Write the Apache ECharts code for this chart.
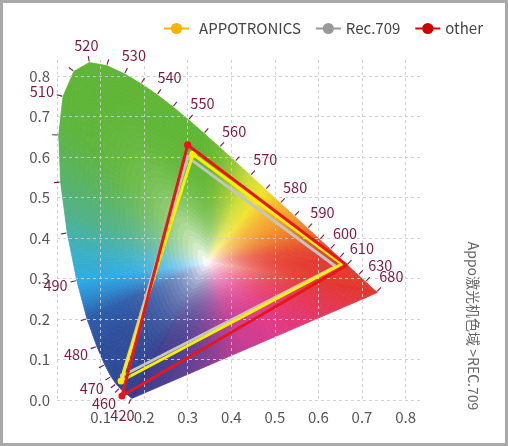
<!DOCTYPE html>
<html>
<head>
<meta charset="utf-8">
<script src="https://cdn.jsdelivr.net/npm/echarts@6/dist/echarts.min.js"></script>
<style>
  html, body { margin: 0; padding: 0; background: #fff; }
  #chart { width: 508px; height: 446px; }
</style>
</head>
<body>
<div id="chart"></div>
<script>
// CIE 1931 spectral locus, 5 nm steps
var locusWl = [380, 385, 390, 395, 400, 405, 410, 415, 420, 425, 430, 435, 440, 445, 450, 455,
  460, 465, 470, 475, 480, 485, 490, 495, 500, 505, 510, 515, 520, 525, 530, 535, 540, 545,
  550, 555, 560, 565, 570, 575, 580, 585, 590, 595, 600, 605, 610, 615, 620, 625, 630, 635,
  640, 645, 650, 655, 660, 665, 670, 675, 680, 685, 690, 695, 700];
var locusX = [0.1741, 0.1740, 0.1738, 0.1736, 0.1733, 0.1730, 0.1726, 0.1721, 0.1714, 0.1703,
  0.1689, 0.1669, 0.1644, 0.1611, 0.1566, 0.1510, 0.1440, 0.1355, 0.1241, 0.1096, 0.0913,
  0.0687, 0.0454, 0.0235, 0.0082, 0.0039, 0.0139, 0.0389, 0.0743, 0.1142, 0.1547, 0.1929,
  0.2296, 0.2658, 0.3016, 0.3373, 0.3731, 0.4087, 0.4441, 0.4788, 0.5125, 0.5448, 0.5752,
  0.6029, 0.6270, 0.6482, 0.6658, 0.6801, 0.6915, 0.7006, 0.7079, 0.7140, 0.7190, 0.7230,
  0.7260, 0.7283, 0.7300, 0.7311, 0.7320, 0.7327, 0.7334, 0.7340, 0.7344, 0.7346, 0.7347];
var locusY = [0.0050, 0.0050, 0.0049, 0.0049, 0.0048, 0.0048, 0.0048, 0.0048, 0.0051, 0.0058,
  0.0069, 0.0086, 0.0109, 0.0138, 0.0177, 0.0227, 0.0297, 0.0399, 0.0578, 0.0868, 0.1327,
  0.2007, 0.2950, 0.4127, 0.5384, 0.6548, 0.7502, 0.8120, 0.8338, 0.8262, 0.8059, 0.7816,
  0.7543, 0.7243, 0.6923, 0.6589, 0.6245, 0.5896, 0.5547, 0.5202, 0.4866, 0.4544, 0.4242,
  0.3965, 0.3725, 0.3514, 0.3340, 0.3197, 0.3083, 0.2993, 0.2920, 0.2859, 0.2809, 0.2770,
  0.2740, 0.2717, 0.2700, 0.2689, 0.2680, 0.2673, 0.2666, 0.2660, 0.2656, 0.2654, 0.2653];

var tickWl = [420, 460, 465, 470, 475, 480, 485, 490, 495, 500, 505, 510, 515, 520, 525, 530,
  535, 540, 545, 550, 555, 560, 565, 570, 575, 580, 585, 590, 595, 600, 605, 610, 620, 630, 680];
var labelWl = [420, 460, 470, 480, 490, 510, 520, 530, 540, 550, 560, 570, 580, 590, 600,
  610, 630, 680];

var appoX = [0.312, 0.654, 0.147, 0.312];
var appoY = [0.607, 0.336, 0.047, 0.607];
var rec709X = [0.300, 0.640, 0.150, 0.300];
var rec709Y = [0.600, 0.330, 0.060, 0.600];
var otherX = [0.300, 0.665, 0.149, 0.300];
var otherY = [0.630, 0.333, 0.010, 0.630];

var seriesNames = ["APPOTRONICS", "Rec.709", "other"];
var sideNote = "Appo激光机色域 >REC.709";

// colouring of the diagram (style only)
var whitePoint = [0.345, 0.340];
var edgeStops = [
  [380, "#3d3a8c"], [450, "#2f3f8e"], [460, "#2c4592"], [475, "#2c4a98"], [480, "#2c4e9c"],
  [485, "#2d5ca9"], [488, "#2b8fd3"], [490, "#2eaae3"], [493, "#3bb0c4"], [497, "#4fb18a"],
  [502, "#58b35c"], [507, "#5cb43c"], [512, "#5db535"], [555, "#5fb633"], [560, "#72bb33"],
  [565, "#98c738"], [570, "#cddc34"], [575, "#f1e22e"], [580, "#f4b72c"], [585, "#f19b2c"],
  [590, "#ed7c2c"], [595, "#e85d2d"], [600, "#e5452e"], [610, "#e4392e"], [700, "#e3372e"]
];
var purpleStops = [
  [0, "#e3372e"], [0.2, "#e4365a"], [0.4, "#e0388a"], [0.55, "#c63c90"], [0.7, "#7c3f94"],
  [0.85, "#4a3f91"], [1, "#3d3a8c"]
];

function hexRgb(h) {
  return [parseInt(h.substr(1, 2), 16), parseInt(h.substr(3, 2), 16), parseInt(h.substr(5, 2), 16)];
}
function mix(a, b, f) {
  return [a[0] + (b[0] - a[0]) * f, a[1] + (b[1] - a[1]) * f, a[2] + (b[2] - a[2]) * f];
}
function stopColor(stops, v) {
  for (var i = 0; i < stops.length - 1; i++) {
    if (v <= stops[i + 1][0]) {
      var f = (v - stops[i][0]) / (stops[i + 1][0] - stops[i][0]);
      return mix(hexRgb(stops[i][1]), hexRgb(stops[i + 1][1]), Math.max(0, f));
    }
  }
  return hexRgb(stops[stops.length - 1][1]);
}

// boundary: locus (with sub-steps for colour), then line of purples back to the start
var boundary = [];
for (var i = 0; i < locusWl.length; i++) {
  boundary.push({ x: locusX[i], y: locusY[i], wl: locusWl[i], c: stopColor(edgeStops, locusWl[i]) });
}
var last = locusWl.length - 1;
var purpleSteps = 24;
for (var j = 1; j < purpleSteps; j++) {
  var f = j / purpleSteps;
  boundary.push({
    x: locusX[last] + (locusX[0] - locusX[last]) * f,
    y: locusY[last] + (locusY[0] - locusY[last]) * f,
    c: stopColor(purpleStops, f)
  });
}

var fanData = [];
for (var i = 0; i < boundary.length; i++) {
  var a = boundary[i];
  var b = boundary[(i + 1) % boundary.length];
  var len = Math.hypot(b.x - a.x, b.y - a.y);
  var n = Math.max(1, Math.ceil(len / 0.006));
  var onLocus = a.wl !== undefined && b.wl !== undefined;
  for (var s = 0; s < n; s++) {
    var f0 = s / n, f1 = (s + 1) / n;
    var c = onLocus
      ? stopColor(edgeStops, a.wl + (b.wl - a.wl) * (f0 + f1) / 2)
      : mix(a.c, b.c, (f0 + f1) / 2);
    fanData.push([
      a.x + (b.x - a.x) * f0, a.y + (b.y - a.y) * f0,
      a.x + (b.x - a.x) * f1, a.y + (b.y - a.y) * f1,
      c[0], c[1], c[2]
    ]);
  }
}

var RINGS = 30;
function renderFan(params, api) {
  var x0 = api.value(0), y0 = api.value(1), x1 = api.value(2), y1 = api.value(3);
  var edge = [api.value(4), api.value(5), api.value(6)];
  var cx = whitePoint[0], cy = whitePoint[1];
  var children = [];
  for (var k = 0; k < RINGS; k++) {
    var t0 = k / RINGS, t1 = (k + 1) / RINGS;
    var w = Math.pow(1 - (t0 + t1) / 2, 3.5);
    var col = mix(edge, [255, 255, 255], w);
    var fill = "rgb(" + Math.round(col[0]) + "," + Math.round(col[1]) + "," + Math.round(col[2]) + ")";
    var pts = [
      api.coord([cx + (x0 - cx) * t0, cy + (y0 - cy) * t0]),
      api.coord([cx + (x0 - cx) * t1, cy + (y0 - cy) * t1]),
      api.coord([cx + (x1 - cx) * t1, cy + (y1 - cy) * t1]),
      api.coord([cx + (x1 - cx) * t0, cy + (y1 - cy) * t0])
    ];
    children.push({
      type: "polygon",
      shape: { points: pts },
      style: { fill: fill, stroke: fill, lineWidth: 0.7 },
      silent: true
    });
  }
  return { type: "group", children: children };
}

var tickData = tickWl.map(function (wl) {
  var i = locusWl.indexOf(wl);
  return [locusX[i], locusY[i], locusX[i - 1], locusY[i - 1], locusX[i + 1], locusY[i + 1],
    labelWl.indexOf(wl) >= 0 ? 1 : 0, wl];
});

function renderTick(params, api) {
  var p = api.coord([api.value(0), api.value(1)]);
  var a = api.coord([api.value(2), api.value(3)]);
  var b = api.coord([api.value(4), api.value(5)]);
  var c = api.coord(whitePoint);
  var tx = b[0] - a[0], ty = b[1] - a[1];
  var L = Math.hypot(tx, ty);
  var nx = ty / L, ny = -tx / L;
  if (nx * (p[0] - c[0]) + ny * (p[1] - c[1]) < 0) { nx = -nx; ny = -ny; }
  var children = [{
    type: "line",
    shape: { x1: p[0] + nx, y1: p[1] + ny, x2: p[0] + nx * 6.5, y2: p[1] + ny * 6.5 },
    style: { stroke: "#7a1a3c", lineWidth: 1.1 },
    silent: true
  }];
  if (api.value(6)) {
    var d = 8.5 + Math.abs(nx) * 12 + Math.abs(ny) * 7;
    children.push({
      type: "text",
      x: p[0] + nx * d,
      y: p[1] + ny * d,
      style: {
        text: String(api.value(7)),
        fill: "#7a1a3c",
        font: '14.5px "Noto Sans CJK SC"',
        align: "center",
        verticalAlign: "middle"
      },
      silent: true
    });
  }
  return { type: "group", children: children };
}

function pairs(xs, ys) {
  return xs.map(function (x, i) { return [x, ys[i]]; });
}
// no marker on the red corner (hidden in the reference)
function cornerSize(size) {
  return function (v, p) { return p.dataIndex === 1 ? 0 : size; };
}

var axisCommon = {
  type: "value",
  min: 0,
  max: 0.84,
  interval: 0.1,
  z: 5,
  axisLine: { show: false },
  axisTick: { show: false },
  splitLine: {
    show: true,
    showMaxLine: false,
    lineStyle: { type: [3, 3], color: "rgba(205,205,205,0.9)", width: 1 }
  }
};

var chart = echarts.init(document.getElementById("chart"));
chart.setOption({
  animation: false,
  backgroundColor: "#fff",
  textStyle: { fontFamily: '"Noto Sans CJK SC"' },
  grid: { left: 57, right: 85, top: 60, bottom: 46 },
  legend: {
    right: 20,
    top: 16,
    itemWidth: 25,
    itemHeight: 14,
    itemGap: 14,
    textStyle: { color: "#444", fontSize: 15, fontFamily: '"Noto Sans CJK SC"' },
    data: [
      {
        name: seriesNames[0], itemStyle: { color: "#f5b400" }, lineStyle: { color: "#f5b400" },
        textStyle: { padding: [0, 0, 0, 5] }
      },
      {
        name: seriesNames[1], itemStyle: { color: "#999" }, lineStyle: { color: "#999" },
        textStyle: { padding: [0, 7, 0, 0] }
      },
      { name: seriesNames[2], itemStyle: { color: "#d10000" }, lineStyle: { color: "#d10000" } }
    ]
  },
  xAxis: Object.assign({}, axisCommon, {
    axisLabel: {
      showMinLabel: false,
      showMaxLabel: false,
      color: "#555",
      fontSize: 15,
      margin: 10,
      formatter: function (v) { return v.toFixed(1); }
    }
  }),
  yAxis: Object.assign({}, axisCommon, {
    axisLabel: {
      showMaxLabel: false,
      color: "#555",
      fontSize: 15,
      margin: 7,
      formatter: function (v) { return v.toFixed(1); }
    }
  }),
  graphic: [
    {
      type: "rect",
      shape: { x: 1.5, y: 1.5, width: 505, height: 443 },
      style: { fill: "none", stroke: "#a9a9a9", lineWidth: 3 },
      silent: true,
      z: 100
    },
    {
      type: "text",
      x: 473,
      y: 326,
      rotation: -Math.PI / 2,
      style: {
        text: sideNote,
        fill: "#666",
        font: '14px "Noto Sans CJK SC"',
        align: "center",
        verticalAlign: "middle"
      },
      silent: true
    }
  ],
  series: [
    {
      type: "custom",
      name: "gamut",
      z: 1,
      silent: true,
      renderItem: renderFan,
      data: fanData
    },
    {
      type: "custom",
      name: "wavelength",
      z: 8,
      silent: true,
      renderItem: renderTick,
      data: tickData
    },
    {
      type: "line",
      name: seriesNames[0],
      z: 11,
      data: pairs(appoX, appoY),
      symbol: "circle",
      symbolSize: cornerSize(7),
      itemStyle: { color: "#f8f000" },
      lineStyle: { color: "#f8f000", width: 3 }
    },
    {
      type: "line",
      name: seriesNames[1],
      z: 10,
      data: pairs(rec709X, rec709Y),
      symbol: "circle",
      symbolSize: cornerSize(5),
      itemStyle: { color: "#c4c4c4" },
      lineStyle: { color: "#c4c4c4", width: 3 }
    },
    {
      type: "line",
      name: seriesNames[2],
      z: 12,
      data: pairs(otherX, otherY),
      symbol: "circle",
      symbolSize: cornerSize(7),
      itemStyle: { color: "#e8161c" },
      lineStyle: { color: "#e8161c", width: 3 }
    }
  ]
});
</script>
</body>
</html>
